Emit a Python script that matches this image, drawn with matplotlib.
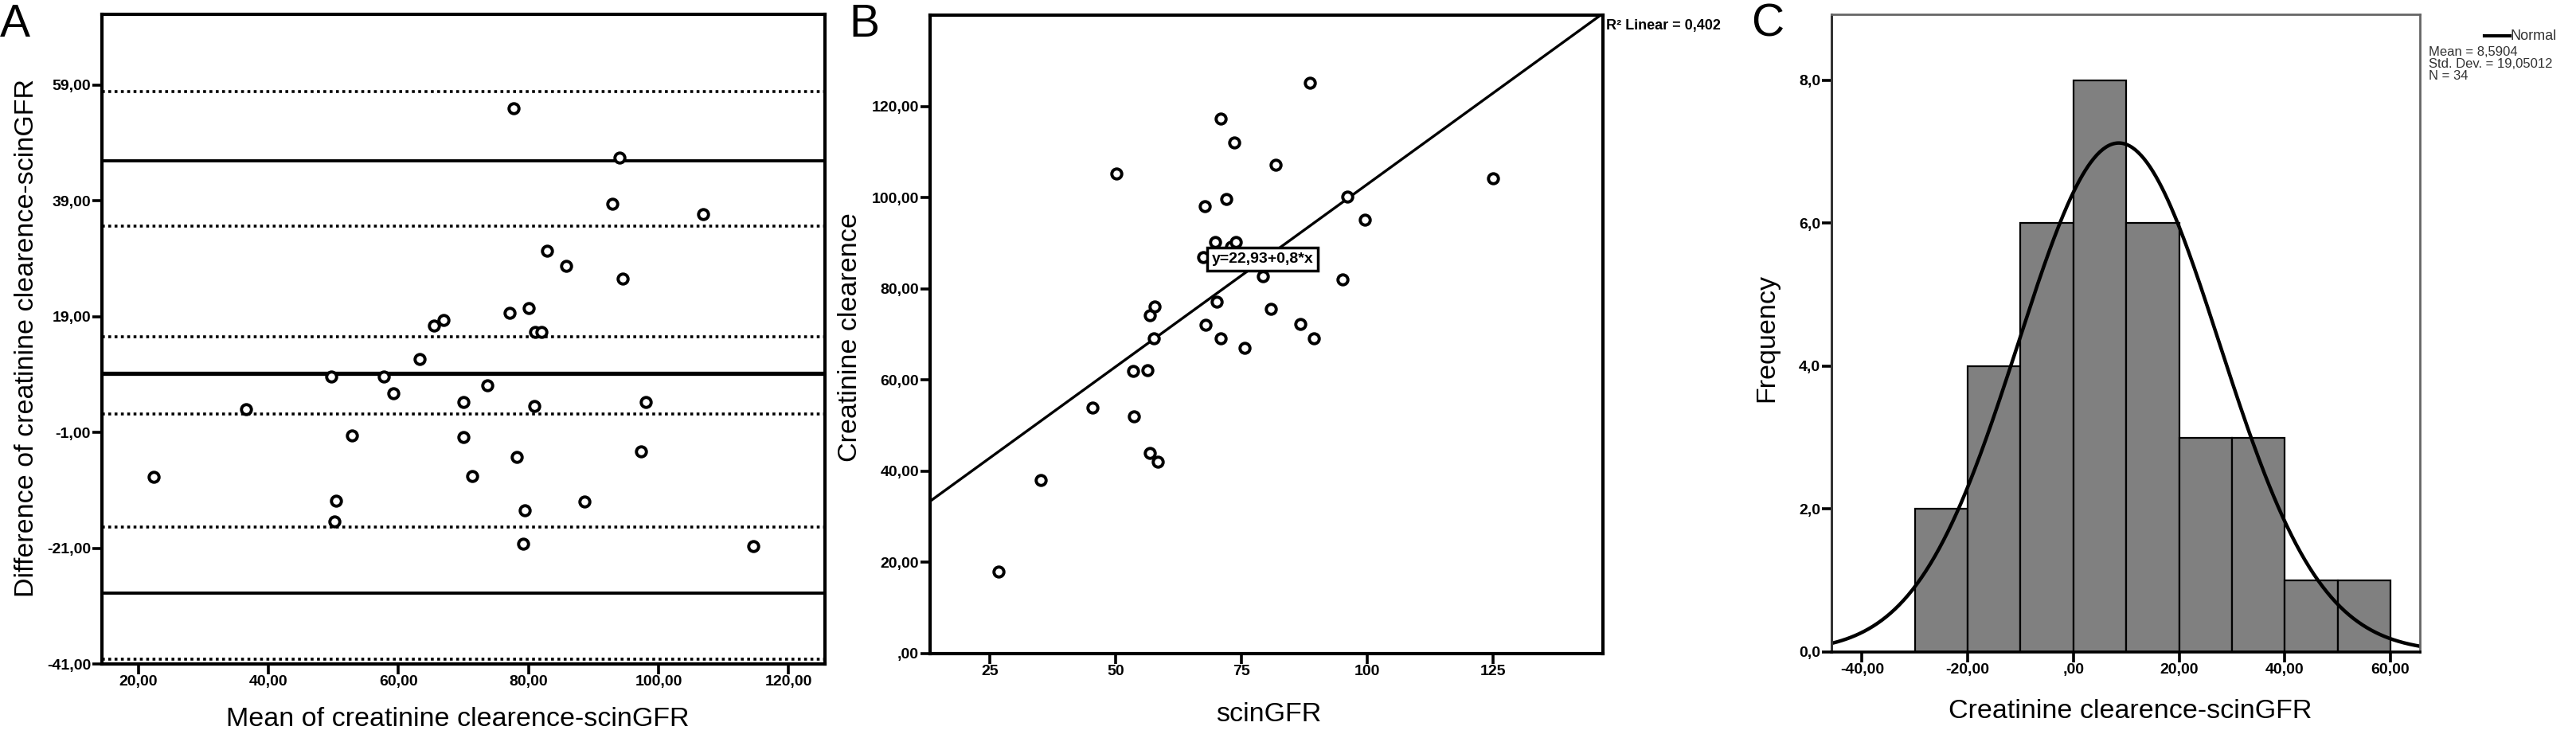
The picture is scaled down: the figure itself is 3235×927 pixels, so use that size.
import numpy as np
import matplotlib
matplotlib.use("Agg")
import matplotlib.pyplot as plt
from matplotlib import font_manager

scin_gfr = [50.2, 70.8, 73.6, 88.5, 67.7, 71.9, 81.7, 67.3, 69.8, 56.7, 57.7, 72.9,
            73.9, 57.5, 45.4, 53.4, 56.3, 70.1, 67.9, 79.2, 96.0, 35.1, 53.6, 70.9,
            80.8, 99.5, 26.7, 75.6, 56.8, 95.1, 86.7, 58.4, 89.3, 124.9]
creat_clear = [105.2, 117.3, 112.1, 125.2, 98.1, 99.7, 107.2, 87.0, 90.3, 74.2, 76.1, 89.2,
               90.2, 69.1, 54.0, 62.0, 62.1, 77.2, 72.1, 82.7, 100.2, 38.1, 52.0, 69.1,
               75.5, 95.2, 18.0, 67.0, 44.0, 82.1, 72.2, 42.0, 69.1, 104.3]

# Bland-Altman reference lines
loa_solid = [45.9, -28.7]
mean_diff_line = 9.2
ci_dotted = [57.8, 34.6, 15.5, 2.2, -17.3, -40.2]

# regression
reg_intercept = 22.93
reg_slope = 0.8

# histogram
bin_left = [-30, -20, -10, 0, 10, 20, 30, 40, 50]
freq = [2, 4, 6, 8, 6, 3, 3, 1, 1]
norm_mean = 8.5904
norm_sd = 19.05012
n_obs = 34

A_yticks = [-41, -21, -1, 19, 39, 59]
A_xticks = [20, 40, 60, 80, 100, 120]
B_yticks = [0, 20, 40, 60, 80, 100, 120]
B_xticks = [25, 50, 75, 100, 125]
C_yticks = [0, 2, 4, 6, 8]
C_xticks = [-40, -20, 0, 20, 40, 60]

W, H = 3235, 927


def box(l, t, r, b):
    return [l / W, 1 - b / H, (r - l) / W, (b - t) / H]


def comma(v, dec, strip=True):
    s = ("%." + str(dec) + "f") % v
    s = s.replace(".", ",")
    if strip and s.startswith("0,"):
        s = s[1:]
    return s


def style_ticks(ax, tickfont):
    ax.tick_params(direction="out", length=9, width=2.6, pad=1, color="black")
    for lab in ax.get_xticklabels() + ax.get_yticklabels():
        lab.set_fontproperties(tickfont)


def main():
    fam = ["Liberation Sans", "DejaVu Sans"]
    plt.rcParams["font.family"] = fam

    tickfont = font_manager.FontProperties(family=fam, weight="bold", size=14)
    labsize = 24.5

    x = np.array(scin_gfr)
    y = np.array(creat_clear)
    mean_xy = (x + y) / 2
    diff_xy = y - x

    fig = plt.figure(figsize=(W / 100, H / 100), dpi=100)

    # ---- panel A : Bland-Altman
    axA = fig.add_axes(box(128, 18, 1036, 834))
    for v in ci_dotted:
        axA.axhline(v, color="black", lw=2.6, ls=(0, (1, 1.2)))
    for v in loa_solid:
        axA.axhline(v, color="black", lw=2.8)
    axA.axhline(mean_diff_line, color="black", lw=3.8)
    axA.plot(mean_xy, diff_xy, "o", ms=9, mfc="white", mec="black", mew=2.8)
    axA.set_xlim(14.4, 125.6)
    axA.set_ylim(-41, 71.2)
    axA.set_yticks(A_yticks)
    axA.set_yticklabels([comma(v, 2) for v in A_yticks])
    axA.set_xticks(A_xticks)
    axA.set_xticklabels([comma(v, 2) for v in A_xticks])
    for s in axA.spines.values():
        s.set_linewidth(3)
    style_ticks(axA, tickfont)

    # ---- panel B : scatter with regression
    axB = fig.add_axes(box(1168, 19, 2013, 821))
    xl = np.array([13.1, 146.8])
    axB.plot(xl, reg_intercept + reg_slope * xl, color="black", lw=2.4)
    axB.plot(x, y, "o", ms=9, mfc="white", mec="black", mew=2.8)
    axB.text(79.2, 86.5, "y=22,93+0,8*x", ha="center", va="center",
             fontproperties=tickfont, zorder=5,
             bbox=dict(boxstyle="square,pad=0.3", fc="white", ec="black", lw=2.5))
    axB.set_xlim(13.1, 146.8)
    axB.set_ylim(0, 140)
    axB.set_yticks(B_yticks)
    axB.set_yticklabels([comma(v, 2) for v in B_yticks])
    axB.set_xticks(B_xticks)
    axB.set_xticklabels([str(v) for v in B_xticks])
    for s in axB.spines.values():
        s.set_linewidth(3)
    style_ticks(axB, tickfont)

    # ---- panel C : histogram with normal curve
    axC = fig.add_axes(box(2300, 18, 3039, 819))
    axC.bar(bin_left, freq, width=10, align="edge", color="#808080",
            edgecolor="black", lw=1.6)
    xs = np.linspace(-45.8, 65.6, 400)
    pdf = np.exp(-0.5 * ((xs - norm_mean) / norm_sd) ** 2) / (norm_sd * np.sqrt(2 * np.pi))
    axC.plot(xs, n_obs * 10 * pdf, color="black", lw=3.2)
    axC.set_xlim(-45.8, 65.6)
    axC.set_ylim(0, 8.92)
    axC.set_yticks(C_yticks)
    axC.set_yticklabels([comma(v, 1, strip=False) for v in C_yticks])
    axC.set_xticks(C_xticks)
    axC.set_xticklabels([comma(v, 2) for v in C_xticks])
    for k in ["top", "right"]:
        axC.spines[k].set_color("#666666")
        axC.spines[k].set_linewidth(2)
    axC.spines["left"].set_linewidth(2.2)
    axC.spines["left"].set_color("#333333")
    axC.spines["bottom"].set_linewidth(2.6)
    style_ticks(axC, tickfont)

    # legend of panel C
    fig.add_artist(plt.Line2D([3120 / W, 3152 / W], [1 - 45 / H, 1 - 45 / H],
                              color="black", lw=3))
    fig.text(3153 / W, 1 - 45 / H, "Normal", fontsize=13, color="#333333", va="center")
    fig.text(3050 / W, 1 - 58 / H, "Mean = 8,5904\nStd. Dev. = 19,05012\nN = 34",
             fontsize=12, color="#333333", va="top", linespacing=0.98)

    fig.text(2017 / W, 1 - 32 / H, "R\u00b2 Linear = 0,402", fontsize=13, fontweight="bold",
             va="center", ha="left")

    # panel letters
    fig.text(0 / W, 1 - 4 / H, "A", fontsize=41, va="top", ha="left")
    fig.text(1066 / W, 1 - 4 / H, "B", fontsize=41, va="top", ha="left")
    fig.text(2199 / W, 1 - 4 / H, "C", fontsize=41, va="top", ha="left")

    # axis labels
    fig.text(34 / W, 1 - 424 / H, "Difference of creatinine clearence-scinGFR",
             fontsize=labsize, rotation=90, ha="center", va="center")
    fig.text(575 / W, 1 - 903 / H, "Mean of creatinine clearence-scinGFR",
             fontsize=labsize, ha="center", va="center")
    fig.text(1067 / W, 1 - 424 / H, "Creatinine clearence",
             fontsize=labsize, rotation=90, ha="center", va="center")
    fig.text(1593 / W, 1 - 897 / H, "scinGFR", fontsize=labsize, ha="center", va="center")
    fig.text(2219 / W, 1 - 424 / H, "Frequency",
             fontsize=labsize, rotation=90, ha="center", va="center")
    fig.text(2675 / W, 1 - 894 / H, "Creatinine clearence-scinGFR",
             fontsize=labsize, ha="center", va="center")

    fig.savefig("out.png", dpi=100)


if __name__ == "__main__":
    main()
